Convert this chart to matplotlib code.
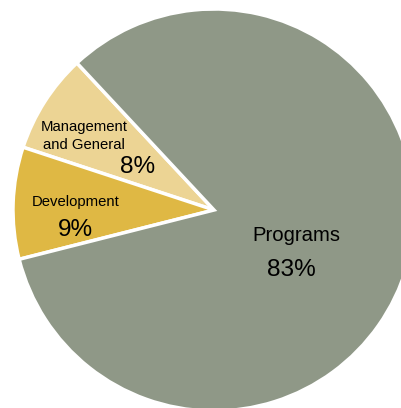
import matplotlib.pyplot as plt

# expense breakdown (percent)
categories = ['Management\nand General', 'Development', 'Programs']
shares = [8, 9, 83]
pct_labels = ['8%', '9%', '83%']
colors = ['#ecd494', '#dfb844', '#8f9887']

plt.rcParams['font.family'] = ['Liberation Sans', 'DejaVu Sans']

fig = plt.figure(figsize=(4.01, 4.08), dpi=100)
ax = fig.add_axes([0, 0, 1, 1])

# pie centre sits at pixel (214, 210), radius ~201 px
ax.pie(shares, colors=colors, startangle=133, counterclock=True,
       radius=1, center=(0, 0),
       wedgeprops=dict(edgecolor='white', linewidth=2.5))

ax.set_xlim(-214 / 201, (401 - 214) / 201)
ax.set_ylim(-(408 - 210) / 201, 210 / 201)
ax.set_aspect('auto')
ax.axis('off')


def px(x, y):
    return (x - 214) / 201, (210 - y) / 201


# label placement in pixel coords (name baseline, pct baseline)
name_pos = [(84, 136), (75.5, 206), (296, 241.5)]
pct_pos = [(138, 173), (75, 236), (291, 276)]

for i, name in enumerate(categories):
    if i == 0:
        ax.text(*px(*name_pos[i]), name, ha='center', va='center',
                fontsize=10.7, linespacing=1.32, color='black')
    else:
        ax.text(*px(*name_pos[i]), name, ha='center', va='baseline',
                fontsize=10.7 if i == 1 else 14.6, color='black')
    ax.text(*px(*pct_pos[i]), pct_labels[i], ha='center', va='baseline',
            fontsize=17.6, color='black')

fig.savefig('out.png', dpi=100)
